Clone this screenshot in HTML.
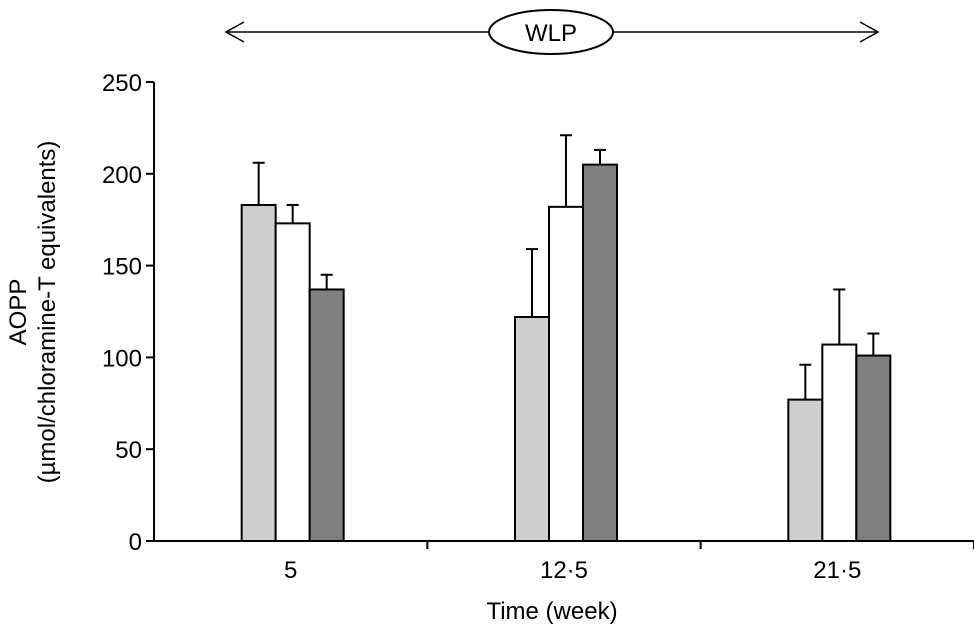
<!DOCTYPE html>
<html><head><meta charset="utf-8"><style>
body{margin:0;background:#fff}
svg{display:block;font-family:"Liberation Sans",sans-serif}
</style></head><body>
<svg id="c" width="974" height="630">
<g id="wlp">
<line x1="226" y1="32" x2="489" y2="32" stroke="#000" stroke-width="1.5"/>
<line x1="613" y1="32" x2="878" y2="32" stroke="#000" stroke-width="1.5"/>
<polyline points="244,22 226,32 244,42" fill="none" stroke="#000" stroke-width="1.5"/>
<polyline points="860,22 878,32 860,42" fill="none" stroke="#000" stroke-width="1.5"/>
<ellipse cx="551" cy="32" rx="62" ry="22" fill="#fff" stroke="#000" stroke-width="2"/>
<text x="551" y="41" font-size="24" text-anchor="middle">WLP</text>
</g>
<g id="axes"></g>
<g id="bars"></g>
<text x="552" y="619" font-size="24" text-anchor="middle">Time (week)</text>
<text transform="translate(26,312) rotate(-90)" font-size="24" text-anchor="middle">AOPP</text>
<text transform="translate(55,312) rotate(-90)" font-size="24" text-anchor="middle">(µmol/chloramine-T equivalents)</text>
</svg>
<script>
const categories=["5","12·5","21·5"];
const seriesA=[183,122,77];
const seriesB=[173,182,107];
const seriesC=[137,205,101];
const errA=[206,159,96];
const errB=[183,221,137];
const errC=[145,213,113];
const yTicks=[0,50,100,150,200,250];
const NS="http://www.w3.org/2000/svg";
const x0=154,x1=974,y0=541,y1=82,yMax=250;
const y=v=>y0-(v/yMax)*(y0-y1);
const catW=(x1-x0)/categories.length;
const cx=i=>x0+catW*(i+0.5);
function mk(p,t,a){const e=document.createElementNS(NS,t);for(const k in a)e.setAttribute(k,a[k]);p.appendChild(e);return e;}
const ax=document.getElementById('axes'),bg=document.getElementById('bars');
let l=mk(ax,'line',{x1:x0,y1:y0,x2:x0,y2:y1,stroke:'#000','stroke-width':2});


l=mk(ax,'line',{x1:x0,y1:y0,x2:x1,y2:y0,stroke:'#000','stroke-width':2});


yTicks.forEach(v=>{
 mk(ax,'line',{x1:x0-8,y1:y(v),x2:x0,y2:y(v),stroke:'#000','stroke-width':2});
 const t=mk(ax,'text',{x:x0-12,y:y(v)+9,'font-size':24,'text-anchor':'end'});t.textContent=v;
 
 
});
for(let i=1;i<=categories.length;i++){mk(ax,'line',{x1:x0+catW*i,y1:y0,x2:x0+catW*i,y2:y0+8,stroke:'#000','stroke-width':2});}
categories.forEach((c,i)=>{
 const t=mk(ax,'text',{x:cx(i),y:578,'font-size':24,'text-anchor':'middle'});t.textContent=c;
 
 
});
const series=[[seriesA,errA,'#cfcfcf'],[seriesB,errB,'#ffffff'],[seriesC,errC,'#7f7f7f']];
const bw=34;
categories.forEach((c,i)=>{
 series.forEach((s,j)=>{
  const bx=cx(i)-1.5*bw+j*bw+2;
  const m=bx+bw/2;
  mk(bg,'line',{x1:m,y1:y(s[0][i]),x2:m,y2:y(s[1][i]),stroke:'#000','stroke-width':2});
  mk(bg,'line',{x1:m-6,y1:y(s[1][i]),x2:m+6,y2:y(s[1][i]),stroke:'#000','stroke-width':2});
  const r=mk(bg,'rect',{x:bx,y:y(s[0][i]),width:bw,height:y0-y(s[0][i]),fill:s[2],stroke:'#000','stroke-width':2});
  
  
 });
});
</script>
</body></html>
